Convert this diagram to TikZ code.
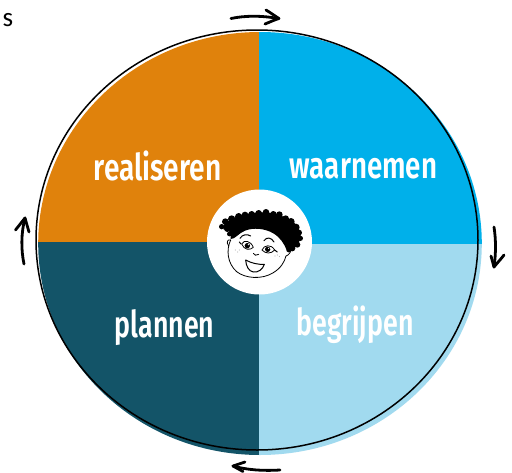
\documentclass[tikz,border=0pt]{standalone}
\usepackage{fontspec}
\setmainfont{Carlito}
\newfontfamily\lblfont{Fira Sans}[UprightFont=* SemiBold]
\definecolor{cOrange}{HTML}{E0820C}
\definecolor{cBlue}{HTML}{00B0EA}
\definecolor{cLight}{HTML}{A1DAEF}
\definecolor{cDark}{HTML}{135468}
\tikzset{
  lbl/.style={text=white,font=\lblfont\fontsize{33}{33}\selectfont,inner sep=0pt,anchor=base,yscale=1.12},
  ink/.style={draw=black,line cap=round,line join=round,line width=2.8pt},
  faceline/.style={draw=black,line cap=round,line join=round,line width=0.8pt},
}
\begin{document}
\begin{tikzpicture}[x=1pt,y=-1pt]
\useasboundingbox (0,0) rectangle (512,472);
\fill[white] (0,0) rectangle (512,472);
% quadrants
\begin{scope}
\clip (260,243.5) ellipse [x radius=221.8,y radius=211.5];
\fill[cOrange] (30,20) rectangle (259,242);
\fill[cBlue] (259,20) rectangle (490,243.5);
\fill[cDark] (30,242) rectangle (258.5,460);
\fill[cLight] (258.5,243.5) rectangle (490,460);
\end{scope}
% outline
\draw[black,line width=1.5pt] (257,240) ellipse [x radius=221,y radius=210];
% centre disc
\fill[white] (259.5,242) circle [radius=52.5];
% labels
\node[lbl,xscale=0.85] (real) at (157.5,180) {realiseren};
\node[lbl,xscale=0.84] (waar) at (363.5,178) {waarnemen};
\node[lbl,xscale=0.81] (plan) at (164.5,337) {plannen};
\node[lbl,xscale=0.81] (begr) at (355,335) {begrijpen};
\node[text=black,font=\fontsize{27}{27}\selectfont,inner sep=0pt,anchor=base west] (s) at (2.5,26) {s};
% arrows
\draw[ink] (231,18.5) .. controls (245,15.5) and (262,15.5) .. (278,18.5);
\draw[ink] (266,10) .. controls (271,13) and (275,16) .. (279,18.5) .. controls (274,20) and (270,22) .. (265,24);
\draw[ink] (494,227) .. controls (496,240) and (496,253) .. (494,267);
\draw[ink] (491,256) -- (494,267) .. controls (498,262) and (501,259) .. (504,255);
\draw[ink] (280,470) .. controls (263,471) and (247,470) .. (233,466);
\draw[ink] (245,462) -- (233,466) -- (243,471.5);
\draw[ink] (24,264) .. controls (21,250) and (21,233) .. (25,218);
\draw[ink] (15.5,230) -- (25,218) -- (29,232);
% face
\begin{scope}[shift={(190,170)},scale=1/3]
  \fill[white] (118,205) .. controls (108,240) and (112,280) .. (140,305)
    .. controls (165,325) and (215,330) .. (250,308)
    .. controls (275,295) and (290,270) .. (298,240) -- (270,190) -- (150,190) -- cycle;
  \draw[faceline] (122,210) .. controls (108,240) and (112,280) .. (140,305)
    .. controls (165,325) and (215,330) .. (250,308)
    .. controls (272,295) and (284,275) .. (288,258)
    .. controls (296,256) and (304,245) .. (306,232);
  \draw[faceline] (122,210) .. controls (112,208) and (108,216) .. (116,228);
  % hair
  \fill[black] (100,178) .. controls (115,175) and (125,190) .. (122,207)
    .. controls (135,208) and (145,190) .. (165,182)
    .. controls (190,172) and (225,175) .. (250,190)
    .. controls (270,202) and (282,220) .. (290,240)
    .. controls (310,245) and (325,225) .. (332,205)
    .. controls (335,180) and (315,150) .. (280,140)
    .. controls (240,120) and (170,125) .. (130,145)
    .. controls (110,155) and (95,165) .. (100,178) -- cycle;
  \foreach \hx/\hy/\hr in {95/170/8,106/155/10,125/147/11,146/140/11,165/135/10,185/133/10,206/130/10,228/127/10,250/133/10,268/134/10,287/146/10,303/155/11,318/172/11,327/188/9,331/205/8,322/224/9,307/235/9,296/240/7,112/176/10,118/192/7}{
    \fill[black] (\hx,\hy) circle [radius=\hr];
  }
  % eyebrows
  \draw[faceline,line width=1pt] (150,205) .. controls (158,192) and (172,192) .. (182,198);
  \draw[faceline,line width=1pt] (222,212) .. controls (230,200) and (244,202) .. (252,216);
  % eyes
  \draw[faceline,fill=white] (155,222) .. controls (162,208) and (182,212) .. (190,232) .. controls (180,242) and (162,240) .. (155,222) -- cycle;
  \fill[black] (172,227) circle [radius=8];
  \fill[white] (175,224) circle [radius=2];
  \draw[faceline,fill=white] (216,240) .. controls (222,224) and (244,222) .. (254,240) .. controls (244,252) and (226,252) .. (216,240) -- cycle;
  \fill[black] (233,238) circle [radius=8];
  \fill[white] (236,235) circle [radius=2];
  \draw[faceline,line width=1pt] (153,222) -- (148,216);
  \draw[faceline,line width=1pt] (254,240) -- (262,246);
  % nose
  \draw[faceline] (190,250) .. controls (192,256) and (200,258) .. (206,253);
  % freckles
  \foreach \fx/\fy in {136/240,143/246,148/240,255/258,262/255,268/260}{
    \fill[black!70] (\fx,\fy) circle [radius=1.2];
  }
  % mouth
  \draw[faceline,line width=1pt,fill=white] (167,270) .. controls (185,280) and (205,284) .. (223,283)
    .. controls (218,298) and (205,308) .. (190,306)
    .. controls (176,304) and (168,288) .. (167,270) -- cycle;
\end{scope}
\end{tikzpicture}
\end{document}
